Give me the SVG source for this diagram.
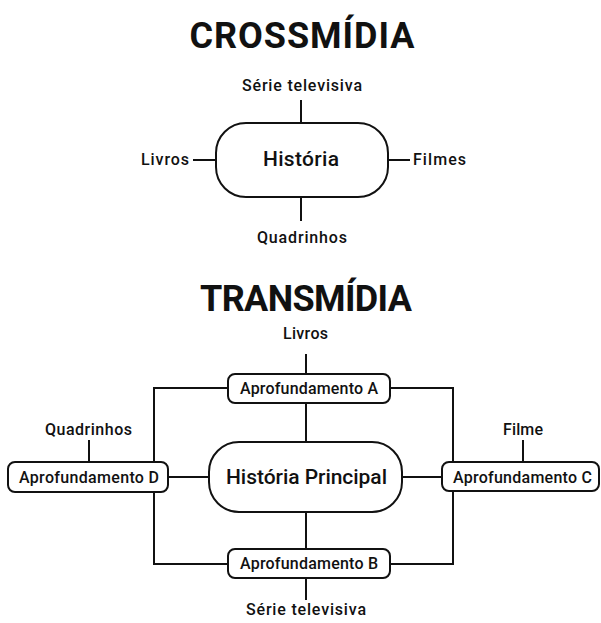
<svg xmlns="http://www.w3.org/2000/svg" width="601" height="623" viewBox="0 0 601 623">
<style>
text{font-family:Roboto,"Liberation Sans",sans-serif;fill:#111;text-anchor:middle}
.title{font-size:36px;font-weight:bold}
.lbl{font-size:16px;font-weight:500}
.big{font-size:21px;font-weight:500}
.box{fill:#fff;stroke:#111;stroke-width:2}
.ln{stroke:#111;stroke-width:2;fill:none}
</style>
<rect width="601" height="623" fill="#fff"/>
<text class="title" x="302" y="48" textLength="225">CROSSMÍDIA</text>
<text class="title" x="306" y="311" textLength="212">TRANSMÍDIA</text>
<g id="connectors">
<line class="ln" x1="301" y1="100" x2="301" y2="123"/>
<line class="ln" x1="301" y1="197" x2="301" y2="221"/>
<line class="ln" x1="193" y1="160" x2="216" y2="160"/>
<line class="ln" x1="388" y1="160" x2="410" y2="160"/>
<line class="ln" x1="306" y1="354" x2="306" y2="374"/>
<line class="ln" x1="306" y1="403" x2="306" y2="442"/>
<line class="ln" x1="306" y1="512" x2="306" y2="549"/>
<line class="ln" x1="306" y1="578" x2="306" y2="600"/>
<line class="ln" x1="168" y1="477" x2="209" y2="477"/>
<line class="ln" x1="402" y1="477" x2="442" y2="477"/>
<line class="ln" x1="89" y1="440" x2="89" y2="462"/>
<line class="ln" x1="523" y1="440" x2="523" y2="462"/>
<polyline class="ln" points="228,388 154,388 154,564 228,564"/>
<polyline class="ln" points="390,388 453,388 453,564 390,564"/>
</g>
<g id="cross-serie"><text class="lbl" x="302" y="91" textLength="120">Série televisiva</text></g>
<g id="cross-livros"><text class="lbl" x="165" y="165" textLength="48">Livros</text></g>
<g id="cross-filmes"><text class="lbl" x="439.5" y="165" textLength="53">Filmes</text></g>
<g id="cross-quadrinhos"><text class="lbl" x="302" y="243" textLength="90">Quadrinhos</text></g>
<g id="historia"><rect class="box" x="216" y="123" width="172" height="74" rx="30"/><text class="big" x="301" y="166" textLength="76">História</text></g>
<g id="trans-livros"><text class="lbl" x="305.5" y="339" textLength="45">Livros</text></g>
<g id="aprof-a"><rect class="box" x="228" y="374" width="162" height="29" rx="7"/><text class="lbl" x="309" y="394" textLength="138">Aprofundamento A</text></g>
<g id="historia-principal"><rect class="box" x="209" y="442" width="193" height="70" rx="30"/><text class="big" x="306.5" y="484" textLength="161">História Principal</text></g>
<g id="aprof-b"><rect class="box" x="228" y="549" width="162" height="29" rx="7"/><text class="lbl" x="309" y="569" textLength="138">Aprofundamento B</text></g>
<g id="trans-serie"><text class="lbl" x="306" y="615" textLength="120">Série televisiva</text></g>
<g id="aprof-d"><rect class="box" x="8" y="462" width="160" height="30" rx="7"/><text class="lbl" x="89" y="483" textLength="140">Aprofundamento D</text></g>
<g id="trans-quadrinhos"><text class="lbl" x="88.5" y="435" textLength="87">Quadrinhos</text></g>
<g id="aprof-c"><rect class="box" x="442" y="462" width="157" height="29" rx="7"/><text class="lbl" x="522.5" y="483" textLength="139">Aprofundamento C</text></g>
<g id="trans-filme"><text class="lbl" x="523" y="435" textLength="40">Filme</text></g>
</svg>
